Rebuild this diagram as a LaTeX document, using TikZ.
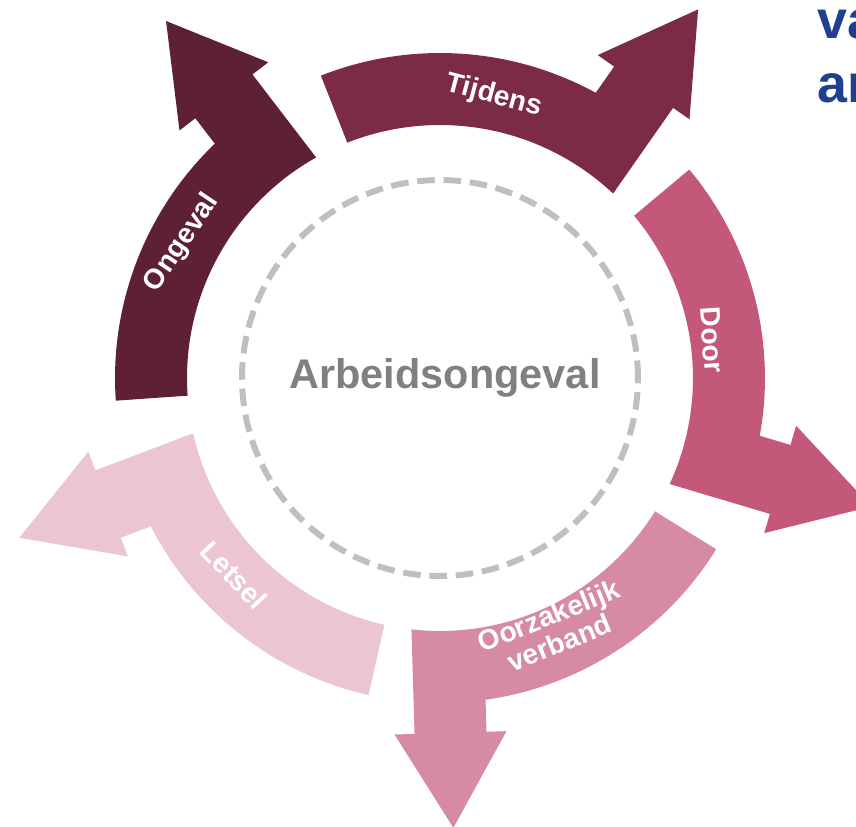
\documentclass[tikz,border=0pt]{standalone}
\usepackage{fontspec}
\setmainfont{Liberation Sans}
\usepackage{xcolor}
\usepackage{tikz}
\usetikzlibrary{positioning}
\definecolor{ongevalc}{RGB}{94,33,52}
\definecolor{tijdensc}{RGB}{123,43,70}
\definecolor{doorc}{RGB}{196,88,120}
\definecolor{oorzaakc}{RGB}{214,139,163}
\definecolor{letselc}{RGB}{235,197,208}
\definecolor{ringc}{RGB}{191,191,191}
\definecolor{midc}{RGB}{128,128,128}
\definecolor{kopc}{RGB}{31,64,145}

\begin{document}
\begin{tikzpicture}
		[x=0.02cm,y=0.02cm,
		every node/.style={inner sep=0pt},
		ring/.style={circle,draw=ringc,line width=3.4pt,dash pattern=on 10pt off 5pt,minimum size=7.92cm},
		midtext/.style={text=midc,font=\bfseries\fontsize{23.6}{28}\selectfont},
		armtext/.style={text=white,font=\bfseries\fontsize{16}{16.5}\selectfont,align=center},
		kop/.style={text=kopc,font=\bfseries\fontsize{30.6}{36}\selectfont,anchor=base west}]
		\useasboundingbox (-440,-448) rectangle (416,378);
		\clip (-440,-448) rectangle (416,378);
		\foreach \ang/\col in {127.5/ongevalc,55/tijdensc,-16.6/doorc,-88.3/oorzaakc,200.8/letselc}
			\fill[\col,rotate=\ang] (56.5:325) arc[start angle=56.5,end angle=6.36,radius=325]
				-- (355,36) -- (355,56) -- (450,0) -- (355,-56) -- (355,-36)
				-- (-8.18:253) arc[start angle=-8.18,end angle=56.5,radius=253] -- cycle;
		\node[ring] (ring) at (0,0) {};
		\node[midtext] (centre) at (5,0) {Arbeidsongeval};
		\node[armtext,rotate=56] (ongeval) at (-258,135) {Ongeval};
		\node[armtext,rotate=-15] (tijdens) at (54,282) {Tijdens};
		\node[armtext,rotate=-86] (door) at (272,38) {Door};
		\node[armtext,rotate=22] (oorzaak) at (114,-251) {Oorzakelijk\\verband};
		\node[armtext,rotate=-47] (letsel) at (-206,-197) {Letsel};
		\node[kop] (kop1) at (377,340) {va};
		\node[kop] (kop2) at (377,276) {ar};
\end{tikzpicture}
\end{document}
